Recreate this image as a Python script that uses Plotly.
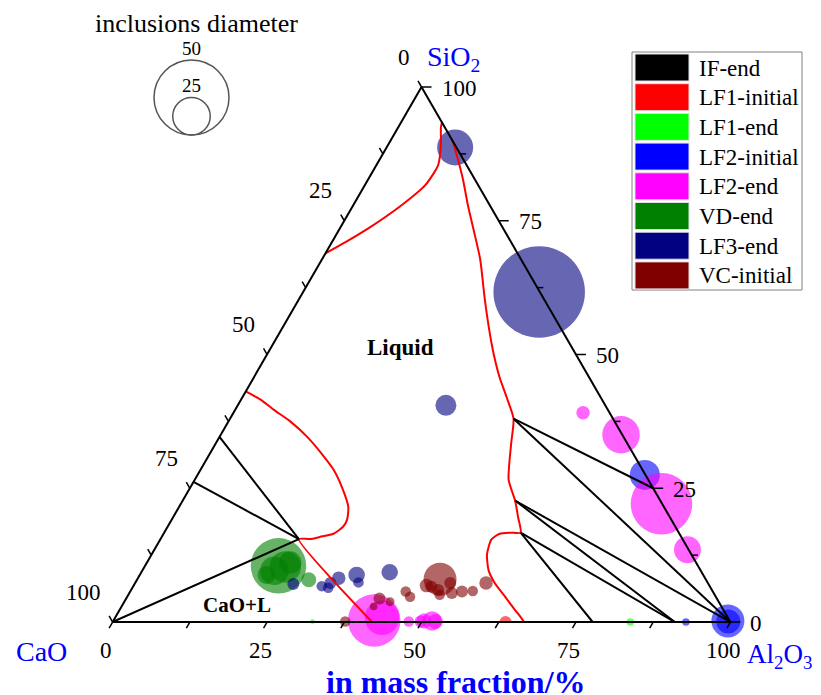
import math
import plotly.graph_objects as go

# ---------------- data (mass %) ----------------
series_names = ["IF-end", "LF1-initial", "LF1-end", "LF2-initial",
                "LF2-end", "VD-end", "LF3-end", "VC-initial"]
series_colors = ["#000000", "#ff0000", "#00ff00", "#0000ff",
                 "#ff00ff", "#008000", "#000080", "#800000"]

# inclusion compositions: SiO2 and Al2O3 (CaO is the remainder), diameter
if_end_sio2 = []
if_end_al2o3 = []
if_end_diam = []

lf1_initial_sio2 = [0.0]
lf1_initial_al2o3 = [63.6]
lf1_initial_diam = [8]

lf1_end_sio2 = [0.1, 0.0]
lf1_end_al2o3 = [32.3, 83.8]
lf1_end_diam = [3, 5]

lf2_initial_sio2 = [27.5, 0.2, 0.1, 0.0]
lf2_initial_al2o3 = [72.4, 99.5, 99.6, 92.8]
lf2_initial_diam = [20, 22, 16, 5]

lf2_end_sio2 = [0.3, 0.8, 0.1, 0.1, 0.2, 0.2, 0.1, 39.1, 35.0, 22.1, 13.5]
lf2_end_al2o3 = [42.2, 43.2, 47.9, 49.8, 50.3, 51.6, 52.2, 56.6, 64.8, 77.8, 86.3]
lf2_end_diam = [35, 23, 7, 8, 10, 13, 10, 9, 25, 41, 18]

vd_end_sio2 = [10.5, 10.3, 9.6, 11.1, 8.8, 7.9]
vd_end_al2o3 = [21.6, 22.8, 21.4, 23.2, 20.5, 27.8]
vd_end_diam = [37, 21, 19, 15, 12, 10]

lf3_end_sio2 = [88.7, 61.7, 40.5, 7.1, 6.7, 7.3, 6.4, 8.2, 8.8, 7.4, 9.3]
lf3_end_al2o3 = [11.1, 38.2, 33.7, 25.7, 30.5, 31.6, 31.7, 32.5, 35.1, 36.1, 40.2]
lf3_end_diam = [24, 61, 14, 8, 7, 8, 7, 9, 11, 7, 11]

vc_initial_sio2 = [8.0, 6.8, 6.6, 6.0, 7.3, 5.4, 5.7, 5.8, 7.3, 5.7, 4.7, 4.4, 3.8, 2.9, 0.1, 5.1]
vc_initial_al2o3 = [49.0, 47.4, 48.3, 49.7, 51.0, 52.2, 53.7, 55.4, 56.8, 44.6, 45.8, 41.0, 43.0, 40.8, 37.6, 50.4]
vc_initial_diam = [22, 9, 8, 8, 8, 8, 8, 7, 9, 7, 7, 8, 6, 5, 7, 7]

# liquidus boundaries (red): SiO2, Al2O3
boundary1_sio2 = [68.9, 71.0, 73.8, 77.7, 81.7, 85.4, 89.3, 92.5, 93.8, 92.7, 90.3, 87.1, 82.8,
                  77.7, 73.0, 67.8, 60.3, 54.7, 50.0, 45.7, 42.1, 38.0, 33.2, 26.6, 22.7, 19.5,
                  16.7, 16.7, 16.5, 15.4, 12.6, 9.7, 7.3, 4.7, 2.6, 0.9, 0.0]
boundary1_al2o3 = [0.0, 2.2, 4.8, 7.7, 9.8, 10.0, 8.5, 6.9, 6.6, 7.8, 9.8, 12.2, 15.3,
                   18.7, 22.0, 25.6, 30.1, 33.6, 36.7, 39.8, 42.7, 45.9, 47.9, 50.8, 53.8, 55.9,
                   57.7, 56.0, 54.4, 53.6, 54.3, 56.0, 58.2, 61.2, 63.6, 65.6, 66.6]
boundary2_sio2 = [43.1, 41.6, 39.7, 37.5, 34.6, 31.3, 28.5, 25.1, 21.5, 19.1, 17.8, 16.5, 15.9,
                  15.5, 15.5, 0.0]
boundary2_al2o3 = [0.0, 3.1, 6.2, 10.0, 14.2, 18.3, 21.5, 24.6, 27.4, 28.4, 28.4, 27.5, 25.6,
                   24.2, 22.4, 42.0]

# tie lines (black): start/end SiO2, Al2O3
tie_start_sio2 = [34.6, 26.2, 0.0, 38.0, 38.0, 22.7, 22.7, 16.7, 16.7]
tie_start_al2o3 = [0.0, 0.0, 0.0, 45.9, 45.9, 53.8, 53.8, 57.7, 57.7]
tie_end_sio2 = [15.5, 15.5, 15.5, 25.0, 0.0, 0.0, 0.0, 0.0, 0.0]
tie_end_al2o3 = [22.4, 22.4, 22.4, 75.0, 100.0, 100.0, 91.0, 91.0, 77.7]

tick_values = [0, 12.5, 25, 37.5, 50, 62.5, 75, 87.5, 100]
tick_labels = [0, 25, 50, 75, 100]
size_legend_diam = [50, 25]

# ---------------- layout constants ----------------
# the page places the figure 8 px from the top-left corner of the window
PAGE_OFF = 8
W, H = 821 - PAGE_OFF, 695 - PAGE_OFF
ML, MR, MT, MB = 104, 90, 79, 73
PW, PH = W - ML - MR, H - MT - MB
PX_PER_UM = 1.5
SERIF = "Liberation Serif"


def xp(px):
    """window pixel x -> paper x"""
    return (px - PAGE_OFF - ML) / PW


def yp(py):
    """window pixel y -> paper y"""
    return (H - MB - (py - PAGE_OFF)) / PH


TRI_H = PH
TRI_W = TRI_H * 2 / math.sqrt(3)
TRI_X0 = PAGE_OFF + ML + (PW - TRI_W) / 2
TRI_Y0 = PAGE_OFF + H - MB


def tern_px(sio2, al2o3):
    return (TRI_X0 + (al2o3 + sio2 / 2) / 100 * TRI_W,
            TRI_Y0 - sio2 / 100 * TRI_H)


def rest(s, a):
    return [100 - si - al for si, al in zip(s, a)]


series = [
    (if_end_sio2, if_end_al2o3, if_end_diam),
    (lf1_initial_sio2, lf1_initial_al2o3, lf1_initial_diam),
    (lf1_end_sio2, lf1_end_al2o3, lf1_end_diam),
    (lf2_initial_sio2, lf2_initial_al2o3, lf2_initial_diam),
    (lf2_end_sio2, lf2_end_al2o3, lf2_end_diam),
    (vd_end_sio2, vd_end_al2o3, vd_end_diam),
    (lf3_end_sio2, lf3_end_al2o3, lf3_end_diam),
    (vc_initial_sio2, vc_initial_al2o3, vc_initial_diam),
]

fig = go.Figure()

for name, color, (s, a, d) in zip(series_names, series_colors, series):
    if not s:
        continue
    fig.add_trace(go.Scatterternary(
        a=s, b=rest(s, a), c=a, mode="markers", name=name,
        cliponaxis=(name == "LF1-initial"),
        marker=dict(size=[v * PX_PER_UM for v in d], sizemode="diameter",
                    color=color, opacity=0.6, line=dict(width=0)),
        hoverinfo="skip"))

for s, a in [(boundary1_sio2, boundary1_al2o3), (boundary2_sio2, boundary2_al2o3)]:
    fig.add_trace(go.Scatterternary(
        a=s, b=rest(s, a), c=a, mode="lines",
        line=dict(color="#ff0000", width=2, shape="spline", smoothing=0.6),
        cliponaxis=False, hoverinfo="skip"))

for s0, a0, s1, a1 in zip(tie_start_sio2, tie_start_al2o3, tie_end_sio2, tie_end_al2o3):
    fig.add_trace(go.Scatterternary(
        a=[s0, s1], b=rest([s0, s1], [a0, a1]), c=[a0, a1], mode="lines",
        line=dict(color="black", width=2), cliponaxis=False, hoverinfo="skip"))

ax = dict(showticklabels=False, ticks="", showgrid=False, linecolor="black",
          linewidth=2, title=dict(text=""), min=0)

shapes = []
annotations = []


def line_px(x0, y0, x1, y1, color="black", width=1.5):
    shapes.append(dict(type="line", xref="paper", yref="paper",
                       x0=xp(x0), y0=yp(y0), x1=xp(x1), y1=yp(y1),
                       line=dict(color=color, width=width)))


def text_px(x, y, text, size, color="black", xanchor="center", bold=False):
    annotations.append(dict(xref="paper", yref="paper", x=xp(x), y=yp(y),
                            text=f"<b>{text}</b>" if bold else text,
                            showarrow=False, xanchor=xanchor, yanchor="middle",
                            font=dict(family=SERIF, size=size, color=color)))


# ticks & tick labels
for v in tick_values:
    # left edge: CaO
    x, y = tern_px(100 - v, 0)
    line_px(x, y, x - 0.5 * 7, y - 0.866 * 7)
    # bottom edge: Al2O3
    x, y = tern_px(0, v)
    line_px(x, y, x - 0.5 * 7, y + 0.866 * 7)
    # right edge: SiO2
    x, y = tern_px(v, 100 - v)
    line_px(x, y, x + (10 if v in tick_labels else 6), y)

for v in tick_labels:
    x, y = tern_px(100 - v, 0)
    text_px(x - 10, y - 30, str(v), 23, xanchor="right")
    x, y = tern_px(0, v)
    text_px(x - 7, y + 28, str(v), 23)
    x, y = tern_px(v, 100 - v)
    text_px(x + 18, y + 1, str(v), 23, xanchor="left")

# component names and title
text_px(425, 58, "SiO<sub>2</sub>", 28, color="#0000ff", xanchor="left")
text_px(41, 651, "CaO", 28, color="#0000ff")
text_px(745, 656, "Al<sub>2</sub>O<sub>3</sub>", 27, color="#0000ff", xanchor="left")
text_px(456, 682, "in mass fraction/%", 32, color="#0000ff", bold=True)
text_px(400, 347, "Liquid", 23, bold=True)
text_px(237, 605, "CaO+L", 21, bold=True)

# series legend
LEG_X0, LEG_Y0, ROW = 632, 52, 29.7
shapes.append(dict(type="rect", xref="paper", yref="paper",
                   x0=xp(LEG_X0), x1=xp(802), y0=yp(LEG_Y0), y1=yp(290),
                   line=dict(color="#808080", width=1), fillcolor="white"))
for i, (name, color) in enumerate(zip(series_names, series_colors)):
    top = 54 + ROW * i
    shapes.append(dict(type="rect", xref="paper", yref="paper",
                       x0=xp(635), x1=xp(689), y0=yp(top), y1=yp(top + 27),
                       line=dict(color="#e0e0e0", width=1), fillcolor=color))
    text_px(697, top + 14, name, 23, xanchor="left")

# bubble size legend
text_px(196, 24, "inclusions diameter", 26)
SL_CX, SL_BOTTOM = 191.5, 135
for dval in size_legend_diam:
    dpx = dval * PX_PER_UM
    shapes.append(dict(type="circle", xref="paper", yref="paper",
                       x0=xp(SL_CX - dpx / 2), x1=xp(SL_CX + dpx / 2),
                       y0=yp(SL_BOTTOM - dpx), y1=yp(SL_BOTTOM),
                       line=dict(color="#555555", width=1.5)))
    text_px(SL_CX, SL_BOTTOM - dpx - 12, str(dval), 19)

fig.update_layout(
    width=W, height=H, margin=dict(l=ML, r=MR, t=MT, b=MB),
    paper_bgcolor="white", showlegend=False, hovermode=False,
    ternary=dict(sum=100, bgcolor="rgba(0,0,0,0)", aaxis=ax, baxis=ax, caxis=ax),
    shapes=shapes, annotations=annotations,
)

fig.write_html("out.html")
